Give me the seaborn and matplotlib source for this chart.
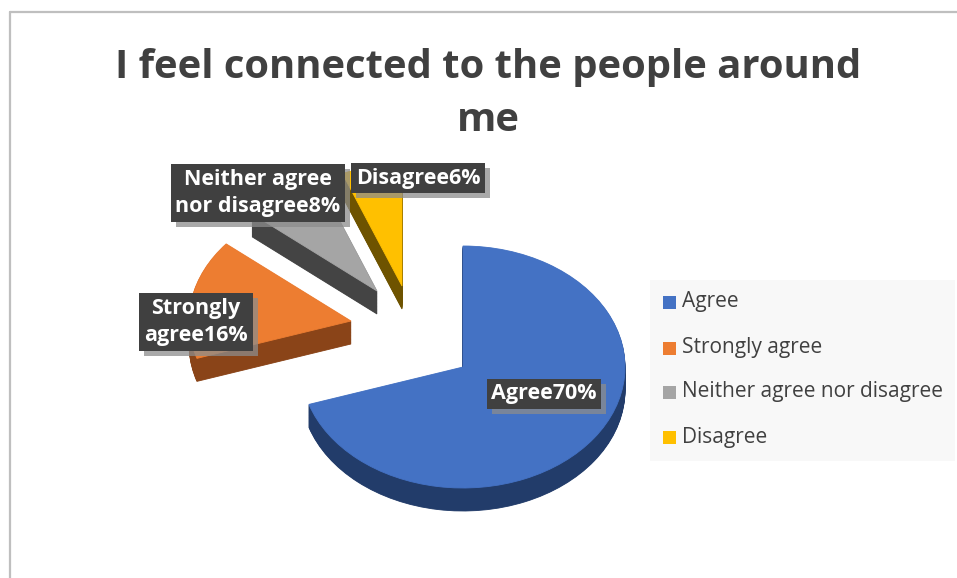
import matplotlib
matplotlib.use("Agg")
import matplotlib.pyplot as plt
import seaborn as sns
from matplotlib.patches import Rectangle

sns.set_theme(style="white")
plt.rcParams["font.family"] = ["Open Sans", "DejaVu Sans"]

# Survey answers
categories = ["Agree", "Strongly agree", "Neither agree nor disagree", "Disagree"]
shares = [70, 16, 8, 6]
label_names = ["Agree", "Strongly\nagree", "Neither agree\nnor disagree", "Disagree"]

top_colors = ["#4472C4", "#ED7D31", "#A5A5A5", "#FFC000"]
side_colors = ["#223C6A", "#8A4418", "#444444", "#6E5300"]
# pulled-out slices: shift of each wedge in pixels (right, up)
slice_shift_px = [(0, 0), (-112, 46), (-86, 76), (-61, 81)]

W, H = 957, 578
fig = plt.figure(figsize=(W / 100, H / 100), dpi=100)
fig.patch.set_facecolor("white")

# chart border (left and top edges visible)
fig.add_artist(plt.Line2D([9.5 / W, 9.5 / W], [0, 1 - 12 / H], color="#BFBFBF", lw=1.6))
fig.add_artist(plt.Line2D([9.5 / W, 1], [1 - 12 / H, 1 - 12 / H], color="#BFBFBF", lw=1.6))

ax = fig.add_axes([0, 0, 1, 1])

# pixel geometry of the tilted pie
cx, cy = 463, 367
rx, ry = 162, 121
thick_px = 23
n_layers = 30


def place(wedges, drop_px, colors):
    for w, c, (sx, sy) in zip(wedges, colors, slice_shift_px):
        w.set_center((sx / rx, (sy - drop_px) / ry))
        w.set_edgecolor(c)


# side walls: stacked copies drawn downward
for k in range(n_layers, 0, -1):
    wedges, _ = ax.pie(shares, startangle=90, counterclock=False,
                       colors=side_colors, wedgeprops=dict(linewidth=0.6))
    place(wedges, thick_px * k / n_layers, side_colors)

# top surface
wedges, _ = ax.pie(shares, startangle=90, counterclock=False,
                   colors=top_colors, wedgeprops=dict(linewidth=0.6))
place(wedges, 0, top_colors)

ax.set_aspect("auto")
ax.set_xlim(-cx / rx, (W - cx) / rx)
ax.set_ylim((cy - H) / ry, cy / ry)
ax.axis("off")

# title
fig.text(488 / W, 1 - 94 / H, "I feel connected to the people around\nme",
         ha="center", va="center", fontsize=28.8, fontweight="bold",
         color="#404040", linespacing=1.45)

# data labels: dark boxes with soft shadow
label_pos = [(544, 394), (196, 322), (258, 193), (418, 178)]
label_texts = []
for name, val, (px, py) in zip(label_names, shares, label_pos):
    t = fig.text(px / W, 1 - py / H, f"{name}{val}%", ha="center", va="center",
                 fontsize=15.5, fontweight="bold", color="white", linespacing=1.35,
                 zorder=5,
                 bbox=dict(boxstyle="square,pad=0.22", fc="#404040", ec="none"))
    label_texts.append(t)

fig.canvas.draw()
renderer = fig.canvas.get_renderer()
for t in label_texts:
    bb = t.get_bbox_patch().get_window_extent(renderer)
    fig.add_artist(Rectangle(((bb.x0 + 5) / W, (bb.y0 - 5) / H), bb.width / W, bb.height / H,
                             transform=fig.transFigure, fc="#8C8C8C", ec="none",
                             alpha=0.75, zorder=4))

# legend panel
fig.add_artist(Rectangle((650 / W, 1 - 461 / H), 305 / W, 181 / H,
                         transform=fig.transFigure, fc="#F8F8F8", ec="none"))
leg_y = [302, 348, 392, 437]
for cat, col, ly in zip(categories, top_colors, leg_y):
    fig.add_artist(Rectangle((663 / W, 1 - (ly + 6.5) / H), 13 / W, 13 / H,
                             transform=fig.transFigure, fc=col, ec="none"))
    fig.text(682 / W, 1 - ly / H, cat, ha="left", va="center", fontsize=15,
             color="#404040")

fig.savefig("out.png", dpi=100, facecolor="white")
